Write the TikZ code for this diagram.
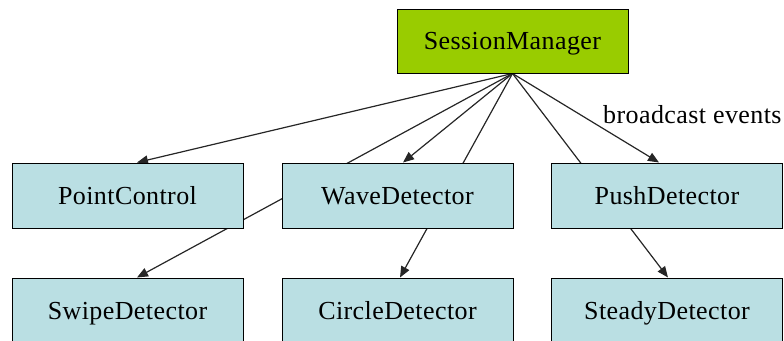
\documentclass[tikz,border=0pt]{standalone}
\usepackage{fontspec}
\setmainfont[LetterSpace=1.6]{Liberation Serif}
\usetikzlibrary{arrows.meta}
\pgfdeclarelayer{edges}
\pgfsetlayers{edges,main}
\definecolor{mgrgreen}{HTML}{99CC00}
\definecolor{detblue}{HTML}{BADFE3}
\tikzset{
  x=1pt, y=-1pt,
  box/.style={draw=black, line width=1pt, rectangle, inner sep=0pt,
    minimum width=231pt, minimum height=65pt,
    text height=17.5pt, text depth=0pt,
    font=\fontsize{26}{30}\selectfont},
  mgr/.style={box, fill=mgrgreen, minimum height=64pt},
  det/.style={box, fill=detblue},
  edge/.style={draw=black!85, line width=1.2pt},
  arr/.style={edge, -{Triangle[length=11pt,width=9pt]}},
  lbl/.style={font=\fontsize{26}{30}\selectfont, inner sep=0pt}
}
\begin{document}
\begin{tikzpicture}
  \useasboundingbox (0,0) rectangle (784,340);
  \clip (0,0) rectangle (784,340);

  % manager on top
  \node[mgr] (sm) at (512.5,41) {SessionManager};

  % first row of components
  \node[det] (pc) at (127.5,195.5) {PointControl};
  \node[det] (wd) at (397.5,195.5) {WaveDetector};
  \node[det] (pd) at (667,195.5)   {PushDetector};

  % second row of components
  \node[det] (sw) at (127.5,310.5) {SwipeDetector};
  \node[det] (cd) at (397.5,310.5) {CircleDetector};
  \node[det] (st) at (667,310.5)   {SteadyDetector};

  \node[lbl, anchor=base west] (ev) at (603,123) {broadcast events};

  % event broadcast from the manager, drawn below the boxes
  \begin{pgfonlayer}{edges}
    \draw[arr] (sm.south) -- ([xshift=9.5pt]pc.north);
    \draw[arr] (sm.south) -- ([xshift=5.5pt]wd.north);
    \draw[arr] (sm.south) -- ([xshift=-8pt]pd.north);
    \draw[arr] (sm.south) -- ([xshift=9.5pt]sw.north);
    \draw[arr] (sm.south) -- ([xshift=2.5pt]cd.north);
    \draw[arr] (sm.south) -- ([xshift=1pt]st.north);
  \end{pgfonlayer}
\end{tikzpicture}
\end{document}
